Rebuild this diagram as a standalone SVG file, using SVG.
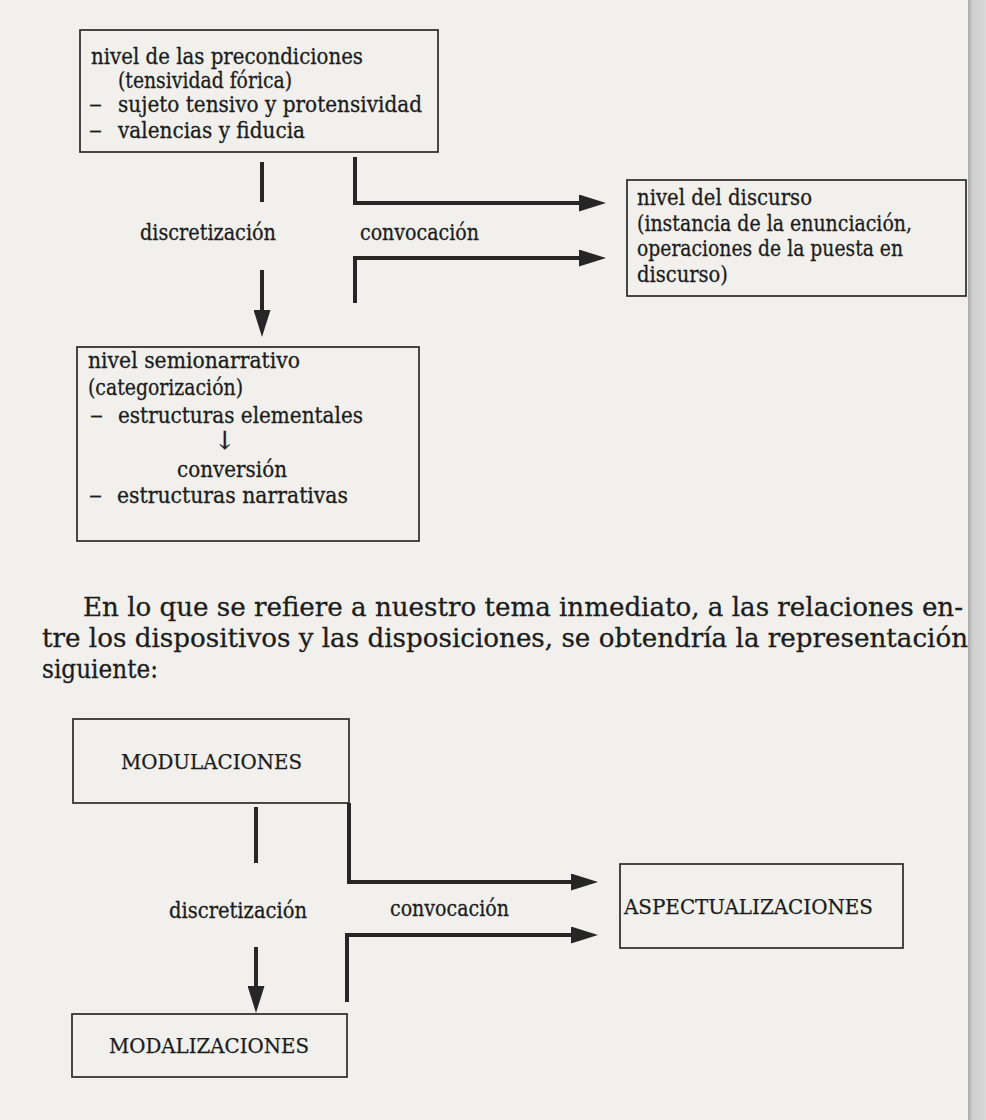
<svg xmlns="http://www.w3.org/2000/svg" width="986" height="1120" viewBox="0 0 986 1120">
<defs>
<style>
.t{font-family:"DejaVu Serif","Liberation Serif",serif;font-size:22px;fill:#1c1c1c;stroke:#1c1c1c;stroke-width:0.3}
.c{font-family:"DejaVu Serif","Liberation Serif",serif;font-size:20px;fill:#1c1c1c;stroke:#1c1c1c;stroke-width:0.25}
.p{font-family:"DejaVu Serif","Liberation Serif",serif;font-size:26px;fill:#1c1c1c;stroke:#1c1c1c;stroke-width:0.3}
.box{fill:none;stroke:#2a2a2a;stroke-width:1.7}
.arr{fill:none;stroke:#262626;stroke-width:4;stroke-linejoin:miter;stroke-linecap:butt}
</style>
<marker id="ah" markerUnits="userSpaceOnUse" markerWidth="27" markerHeight="17" refX="6" refY="8.5" orient="auto">
<path d="M0,0 L27,8.5 L0,17 z" fill="#262626"/>
</marker>
<linearGradient id="bind" x1="0" y1="0" x2="1" y2="0">
<stop offset="0" stop-color="#a9a9a9"/>
<stop offset="0.25" stop-color="#cfcfcf"/>
<stop offset="1" stop-color="#d9d9d9"/>
</linearGradient>
</defs>
<rect x="0" y="0" width="986" height="1120" fill="#f1f0ed"/>
<rect x="968" y="0" width="18" height="1120" fill="url(#bind)"/>

<g id="connectors">
<path class="arr" d="M262,162 V202"/>
<path class="arr" d="M262,270 V316" marker-end="url(#ah)"/>
<path class="arr" d="M355,157 V203 H585" marker-end="url(#ah)"/>
<path class="arr" d="M355,303 V258 H585" marker-end="url(#ah)"/>
<path class="arr" d="M256,807 V863"/>
<path class="arr" d="M256,947 V992" marker-end="url(#ah)"/>
<path class="arr" d="M349,803 V882 H577" marker-end="url(#ah)"/>
<path class="arr" d="M347,1002 V935 H577" marker-end="url(#ah)"/>
</g>

<g id="labels">
<text class="t" x="140" y="240" textLength="136" lengthAdjust="spacingAndGlyphs">discretización</text>
<text class="t" x="360" y="240" textLength="119" lengthAdjust="spacingAndGlyphs">convocación</text>
<text class="t" x="169" y="918" textLength="138" lengthAdjust="spacingAndGlyphs">discretización</text>
<text class="t" x="390" y="916" textLength="119" lengthAdjust="spacingAndGlyphs">convocación</text>
</g>

<g id="node-precondiciones">
<rect class="box" x="80" y="30" width="358" height="122"/>
<text class="t" x="91" y="64" textLength="272" lengthAdjust="spacingAndGlyphs">nivel de las precondiciones</text>
<text class="t" x="118" y="88" textLength="174" lengthAdjust="spacingAndGlyphs">(tensividad fórica)</text>
<text class="t" x="89" y="112" textLength="13" lengthAdjust="spacingAndGlyphs">–</text>
<text class="t" x="118" y="112" textLength="304" lengthAdjust="spacingAndGlyphs">sujeto tensivo y protensividad</text>
<text class="t" x="89" y="138" textLength="13" lengthAdjust="spacingAndGlyphs">–</text>
<text class="t" x="118" y="138" textLength="187" lengthAdjust="spacingAndGlyphs">valencias y fiducia</text>
</g>

<g id="node-discurso">
<rect class="box" x="627" y="180" width="339" height="116"/>
<text class="t" x="637" y="205" textLength="175" lengthAdjust="spacingAndGlyphs">nivel del discurso</text>
<text class="t" x="637" y="231" textLength="275" lengthAdjust="spacingAndGlyphs">(instancia de la enunciación,</text>
<text class="t" x="637" y="256" textLength="266" lengthAdjust="spacingAndGlyphs">operaciones de la puesta en</text>
<text class="t" x="637" y="282" textLength="91" lengthAdjust="spacingAndGlyphs">discurso)</text>
</g>

<g id="node-semionarrativo">
<rect class="box" x="77" y="347" width="342" height="194"/>
<text class="t" x="88" y="368" textLength="212" lengthAdjust="spacingAndGlyphs">nivel semionarrativo</text>
<text class="t" x="88" y="395" textLength="155" lengthAdjust="spacingAndGlyphs">(categorización)</text>
<text class="t" x="90" y="423" textLength="13" lengthAdjust="spacingAndGlyphs">–</text>
<text class="t" x="118" y="423" textLength="245" lengthAdjust="spacingAndGlyphs">estructuras elementales</text>
<text class="t" x="225" y="449" text-anchor="middle" style="font-size:25px">↓</text>
<text class="t" x="177" y="477" textLength="110" lengthAdjust="spacingAndGlyphs">conversión</text>
<text class="t" x="89" y="503" textLength="13" lengthAdjust="spacingAndGlyphs">–</text>
<text class="t" x="117" y="503" textLength="231" lengthAdjust="spacingAndGlyphs">estructuras narrativas</text>
</g>

<g id="paragraph">
<text class="p" x="83" y="616" textLength="880" lengthAdjust="spacingAndGlyphs">En lo que se refiere a nuestro tema inmediato, a las relaciones en-</text>
<text class="p" x="42" y="647" textLength="926" lengthAdjust="spacingAndGlyphs">tre los dispositivos y las disposiciones, se obtendría la representación</text>
<text class="p" x="42" y="678" textLength="116" lengthAdjust="spacingAndGlyphs">siguiente:</text>
</g>

<g id="node-modulaciones">
<rect class="box" x="73" y="719" width="276" height="84"/>
<text class="c" x="121" y="769" textLength="181" lengthAdjust="spacingAndGlyphs">MODULACIONES</text>
</g>

<g id="node-aspectualizaciones">
<rect class="box" x="620" y="864" width="283" height="84"/>
<text class="c" x="624" y="914" textLength="249" lengthAdjust="spacingAndGlyphs">ASPECTUALIZACIONES</text>
</g>

<g id="node-modalizaciones">
<rect class="box" x="72" y="1014" width="275" height="63"/>
<text class="c" x="109" y="1053" textLength="200" lengthAdjust="spacingAndGlyphs">MODALIZACIONES</text>
</g>
</svg>
